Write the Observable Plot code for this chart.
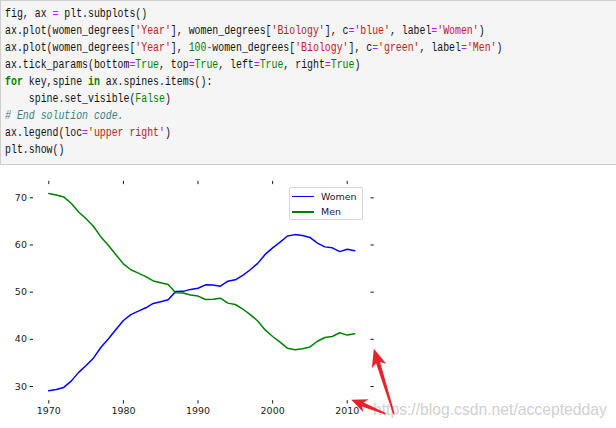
<!DOCTYPE html>
<html><head><meta charset="utf-8">
<script src="https://cdn.jsdelivr.net/npm/d3@7"></script>
<script src="https://cdn.jsdelivr.net/npm/@observablehq/plot@0.6"></script>
<style>
html,body{margin:0;padding:0;background:#fff;width:616px;height:428px;overflow:hidden;position:relative;}
#code{position:absolute;left:0;top:0;width:640px;height:165px;background:#f5f5f5;border:1px solid #cfcfcf;box-sizing:border-box;overflow:hidden;}
#lines{padding:5px 0 0 5px;font-family:"Liberation Mono",monospace;font-size:12px;color:#111;transform:scaleX(0.822);transform-origin:0 0;}
#lines div{height:17px;line-height:17px;white-space:pre;}
.s{color:#BA2121}.k{color:#008000}.kb{color:#008000;font-weight:bold}.o{color:#AA22FF}.c{color:#408080;font-style:italic}
#wm{position:absolute;left:373px;top:400px;font-family:"Liberation Sans",Arial,sans-serif;font-size:15.7px;color:#d0d0d0;white-space:nowrap;line-height:19px;}
#chart{position:absolute;left:0;top:170px;}
#legend{position:absolute;left:289px;top:187px;width:74px;height:33px;box-sizing:border-box;border:1px solid #d4d4d4;border-radius:2px;background:rgba(255,255,255,0.8);font-family:"DejaVu Sans",sans-serif;font-size:9.46px;color:#1a1a1a;}
.li{position:absolute;left:0;height:12px;width:72px;}
.li span.sw{position:absolute;left:2px;top:5.2px;width:21.5px;height:1.6px;}
.li span.lb{position:absolute;left:31px;top:0;line-height:12px;}
</style>
</head><body>
<div id="code"><div id="lines">
<div>fig, ax <span class="o">=</span> plt.subplots()</div>
<div>ax.plot(women_degrees[<span class="s">'Year'</span>], women_degrees[<span class="s">'Biology'</span>], c<span class="o">=</span><span class="s">'blue'</span>, label<span class="o">=</span><span class="s">'Women'</span>)</div>
<div>ax.plot(women_degrees[<span class="s">'Year'</span>], <span class="k">100</span><span class="o">-</span>women_degrees[<span class="s">'Biology'</span>], c<span class="o">=</span><span class="s">'green'</span>, label<span class="o">=</span><span class="s">'Men'</span>)</div>
<div>ax.tick_params(bottom<span class="o">=</span><span class="k">True</span>, top<span class="o">=</span><span class="k">True</span>, left<span class="o">=</span><span class="k">True</span>, right<span class="o">=</span><span class="k">True</span>)</div>
<div><span class="kb">for</span> key,spine <span class="kb">in</span> ax.spines.items():</div>
<div>    spine.set_visible(<span class="k">False</span>)</div>
<div><span class="c"># End solution code.</span></div>
<div>ax.legend(loc<span class="o">=</span><span class="s">'upper right'</span>)</div>
<div>plt.show()</div>
</div></div>
<div id="wm">https://blog.csdn.net/acceptedday</div>
<div id="chart"></div>
<div id="legend"></div>
<script>
const years = [1970,1971,1972,1973,1974,1975,1976,1977,1978,1979,
  1980,1981,1982,1983,1984,1985,1986,1987,1988,1989,
  1990,1991,1992,1993,1994,1995,1996,1997,1998,1999,
  2000,2001,2002,2003,2004,2005,2006,2007,2008,2009,
  2010,2011];
const women = [29.09,29.39,29.81,31.15,33.0,34.45,36.07,38.33,40.11,42.07,
  44.0,45.25,45.97,46.69,47.61,47.99,48.39,50.12,50.17,50.59,
  50.83,51.55,51.5,51.28,52.32,52.61,53.57,54.75,56.1,58.0,
  59.4,60.6,61.9,62.2,62.0,61.6,60.4,59.6,59.4,58.6,
  59.1,58.8];
const men = [70.91,70.61,70.19,68.85,67.0,65.55,63.93,61.67,59.89,57.93,
  56.0,54.75,54.03,53.31,52.39,52.01,51.61,49.88,49.83,49.41,
  49.17,48.45,48.5,48.72,47.68,47.39,46.43,45.25,43.9,42.0,
  40.6,39.4,38.1,37.8,38.0,38.4,39.6,40.4,40.6,41.4,
  40.9,41.2];
const seriesNames = ["Women","Men"];
const seriesColors = ["#0000ff","#008000"];
const xTicks = [1970,1980,1990,2000,2010];
const yTicks = [30,40,50,60,70];
// screenshot annotations (red arrows): tip in data units, length/angle of the drawn arrow
const arrows = [
  {x:2013.56, y:38.0, length:68, angle:-17.1, headLength:18, headWidth:15},
  {x:2010.53, y:27.19, length:37, angle:-67.8, headLength:16, headWidth:14}
];

const rows = years.flatMap((yr,i)=>[
  {year:yr,value:women[i],series:seriesNames[0]},
  {year:yr,value:men[i],series:seriesNames[1]}
]);
const pad = (lo,hi)=>{const d=(hi-lo)*0.05;return [lo-d,hi+d];};
const xDomain = pad(d3.min(years), d3.max(years));
const yDomain = pad(d3.min(women.concat(men)), d3.max(women.concat(men)));
const red = "#e8212a";

// arrow shape pointing up from its tip at (0,0)
const arrowSymbol = (L, hl, hw) => ({
  draw(ctx){
    ctx.moveTo(0,0);
    ctx.lineTo(hw/2, hl);
    ctx.lineTo(2.1, hl-3.5);
    ctx.lineTo(0.8, L);
    ctx.lineTo(-0.8, L);
    ctx.lineTo(-2.1, hl-3.5);
    ctx.lineTo(-hw/2, hl);
    ctx.closePath();
  }
});

const chart = Plot.plot({
  width:616, height:258,
  marginLeft:33, marginRight:246.5, marginTop:13.15, marginBottom:27.8,
  x:{domain:xDomain},
  y:{domain:yDomain},
  color:{domain:seriesNames, range:seriesColors},
  style:{background:"transparent", fontFamily:"DejaVu Sans, sans-serif", fontSize:"9.46px", color:"#1a1a1a", overflow:"visible"},
  marks:[
    Plot.axisX({ticks:xTicks, anchor:"bottom", tickSize:3.3, tickPadding:3.3, tickFormat:"d", label:null}),
    Plot.axisX({ticks:xTicks, anchor:"top", tickSize:3.3, tickFormat:()=>"", label:null}),
    Plot.axisY({ticks:yTicks, anchor:"left", tickSize:3.3, tickPadding:3.3, label:null}),
    Plot.axisY({ticks:yTicks, anchor:"right", tickSize:3.3, tickFormat:()=>"", label:null}),
    Plot.line(rows,{x:"year",y:"value",z:"series",stroke:"series",strokeWidth:1.5}),
    ...arrows.map(a=>Plot.dot([a],{x:"x",y:"y",symbol:arrowSymbol(a.length,a.headLength,a.headWidth),r:5,fill:red,stroke:null,rotate:a.angle}))
  ]
});
document.getElementById("chart").appendChild(chart);

const legend = d3.select("#legend");
seriesNames.forEach((name,i)=>{
  const item = legend.append("div").attr("class","li").style("top",(2.7+i*15.3)+"px");
  item.append("span").attr("class","sw").style("background",seriesColors[i]);
  item.append("span").attr("class","lb").text(name);
});
</script>
</body></html>
